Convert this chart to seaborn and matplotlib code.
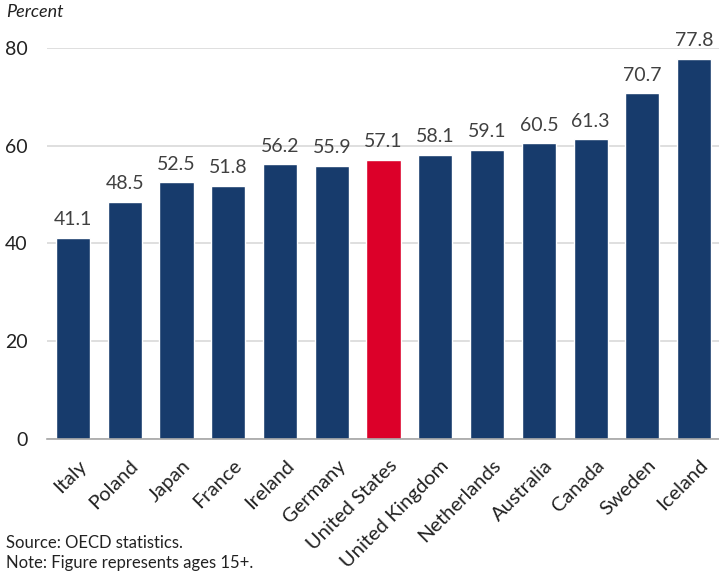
import matplotlib
matplotlib.use("Agg")
import matplotlib.pyplot as plt
import matplotlib.transforms as mtransforms
import seaborn as sns
import pandas as pd

# Data for the plot
countries = ["Italy", "Poland", "Japan", "France", "Ireland", "Germany",
             "United States", "United Kingdom", "Netherlands", "Australia",
             "Canada", "Sweden", "Iceland"]
values = [41.1, 48.5, 52.5, 51.8, 56.2, 55.9, 57.1, 58.1, 59.1, 60.5, 61.3, 70.7, 77.8]
y_ticks = [0, 20, 40, 60, 80]

navy = "#173B6C"
red = "#DC0029"
palette = [red if c == "United States" else navy for c in countries]

df = pd.DataFrame({"Country": countries, "Percent": values})

sns.set_style("white")
plt.rcParams["font.family"] = ["Lato", "DejaVu Sans"]

fig = plt.figure(figsize=(7.19, 5.72), dpi=100)
ax = fig.add_axes([0.0654, 0.233, 0.936, 0.683])

sns.barplot(data=df, x="Country", y="Percent", hue="Country", palette=palette,
            legend=False, width=0.66, saturation=1, ax=ax, zorder=3)

# value labels above bars
for i, v in enumerate(values):
    ax.text(i, v + 2.0, f"{v:.1f}", ha="center", va="bottom",
            fontsize=14, color="#404040")

ax.set_ylim(0, 80)
ax.set_xlim(-0.5, len(countries) - 0.5)
ax.set_yticks(y_ticks)
ax.yaxis.grid(True, color="#D9D9D9", linewidth=1.2, zorder=0)
ax.set_axisbelow(True)
for s in ["top", "right", "left"]:
    ax.spines[s].set_visible(False)
ax.spines["bottom"].set_color("#A6A6A6")
ax.spines["bottom"].set_linewidth(1.2)
ax.spines["bottom"].set_zorder(4)

ax.set_xlabel("")
ax.set_ylabel("")
ax.tick_params(axis="y", labelsize=14, length=0, pad=14, labelcolor="#222222")
ax.tick_params(axis="x", labelsize=14.5, length=0, pad=13, labelcolor="#222222")
offset = mtransforms.ScaledTranslation(5 / 100, 0, fig.dpi_scale_trans)
for lbl in ax.get_xticklabels():
    lbl.set_rotation(45)
    lbl.set_ha("right")
    lbl.set_rotation_mode("anchor")
    lbl.set_transform(lbl.get_transform() + offset)

fig.text(0.008, 0.993, "Percent", fontsize=13, style="italic", va="top", ha="left",
         color="#222222")
fig.text(0.008, 0.036, "Source: OECD statistics.", fontsize=12, va="bottom",
         ha="left", color="#222222")
fig.text(0.008, 0.002, "Note: Figure represents ages 15+.", fontsize=12,
         va="bottom", ha="left", color="#222222")

fig.savefig("out.png", dpi=100)
